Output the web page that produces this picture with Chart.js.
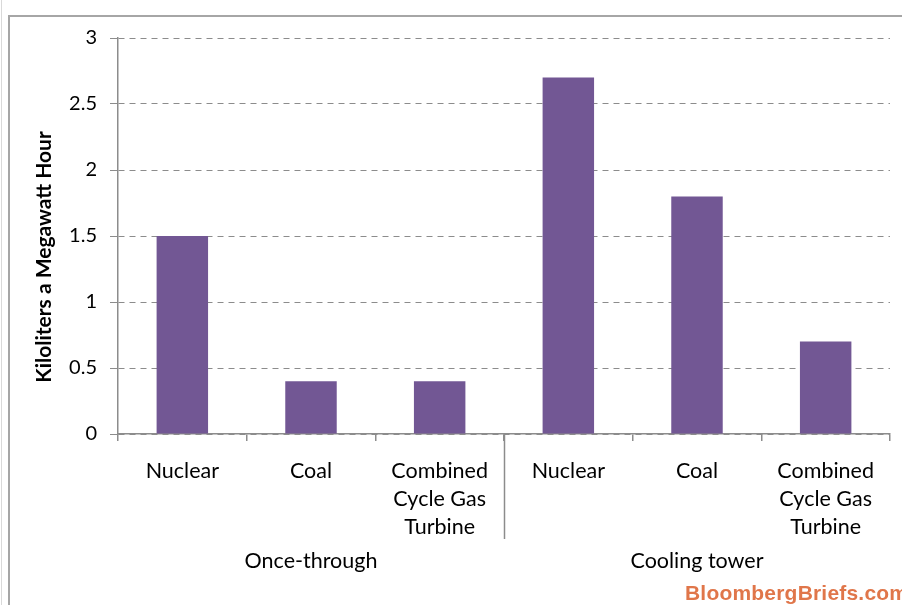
<!DOCTYPE html>
<html>
<head>
<meta charset="utf-8">
<script src="https://cdn.jsdelivr.net/npm/chart.js@4"></script>
<style>
  html, body { margin: 0; padding: 0; background: #fff; }
  #wrap { position: relative; width: 902px; height: 605px; overflow: hidden; }
  #frame { position: absolute; left: 8px; top: 15px; width: 1000px; height: 1000px; border-left: 2px solid #a6a6a6; border-top: 2px solid #a6a6a6; }
  #frame2 { position: absolute; left: 1px; top: 0px; width: 1px; height: 605px; background: #d9d9d9; }
  #c { position: absolute; left: 0; top: 0; }
  #wm { position: absolute; left: 685px; top: 581px; font-family: "Liberation Sans", Arial, sans-serif; font-weight: bold; font-size: 21px; color: #E0764A; white-space: nowrap; letter-spacing: 0.2px; }
</style>
</head>
<body>
<div id="wrap">
  <div id="frame2"></div>
  <div id="frame"></div>
  <canvas id="c" width="902" height="605"></canvas>
  <div id="wm">BloombergBriefs.com</div>
</div>
<script>
const categories = [
  ["Nuclear"], ["Coal"], ["Combined", "Cycle Gas", "Turbine"],
  ["Nuclear"], ["Coal"], ["Combined", "Cycle Gas", "Turbine"]
];
const groups = ["Once-through", "Cooling tower"];
const values = [1.5, 0.4, 0.4, 2.7, 1.8, 0.7];
const yTicks = [0, 0.5, 1, 1.5, 2, 2.5, 3];
const yTitle = "Kiloliters a Megawatt Hour";

const FONT = "Lato, 'Open Sans', sans-serif";
const GRID = "#8c8c8c";

const extras = {
  id: "extras",
  afterDraw(chart) {
    const ctx = chart.ctx;
    const x = chart.scales.x;
    const sep = (x.getPixelForValue(2) + x.getPixelForValue(3)) / 2;
    ctx.save();
    ctx.strokeStyle = GRID;
    ctx.lineWidth = 1.5;
    ctx.beginPath();
    ctx.moveTo(Math.round(sep) + 0.5, chart.chartArea.bottom);
    ctx.lineTo(Math.round(sep) + 0.5, 539);
    ctx.stroke();
    // y-axis title
    ctx.translate(44, 257);
    ctx.rotate(-Math.PI / 2);
    ctx.fillStyle = "#000";
    ctx.font = "bold 21px " + FONT;
    ctx.textAlign = "center";
    ctx.textBaseline = "middle";
    ctx.fillText(yTitle, 0, 0);
    ctx.restore();
  }
};

new Chart(document.getElementById("c"), {
  type: "bar",
  data: {
    labels: categories,
    datasets: [{
      data: values,
      backgroundColor: "#725794",
      borderWidth: 0,
      barPercentage: 0.4,
      categoryPercentage: 1.0
    }]
  },
  options: {
    responsive: false,
    animation: false,
    events: [],
    layout: { padding: { left: 0, top: 38, right: 12, bottom: 0 } },
    plugins: { legend: { display: false }, tooltip: { enabled: false } },
    scales: {
      y: {
        min: 0, max: 3,
        afterBuildTicks(s) { s.ticks = yTicks.map(v => ({ value: v })); },
        afterFit(s) { s.width = 118; },
        ticks: {
          font: { family: FONT, size: 20 },
          color: "#000",
          padding: 13,
          callback: v => String(v)
        },
        grid: {
          color: GRID,
          lineWidth: 1,
          tickLength: 8,
          tickBorderDash: [],
          drawTicks: true
        },
        border: { display: true, color: GRID, width: 1.5, dash: [6, 5] }
      },
      x: {
        afterFit(s) { s.height = 110; },
        ticks: {
          font: { family: FONT, size: 21.5, lineHeight: 1.3 },
          color: "#000",
          padding: 16,
          maxRotation: 0,
          autoSkip: false
        },
        grid: {
          offset: true,
          drawOnChartArea: false,
          drawTicks: true,
          tickLength: 7,
          color: GRID,
          lineWidth: 1.5
        },
        border: { display: true, color: GRID, width: 1.5 }
      },
      x2: {
        type: "category",
        labels: groups,
        position: "bottom",
        offset: true,
        afterFit(s) { s.height = 61; },
        ticks: {
          font: { family: FONT, size: 21.5 },
          color: "#000",
          padding: 4
        },
        grid: { display: false, drawTicks: false },
        border: { display: false }
      }
    }
  },
  plugins: [extras]
});
</script>
</body>
</html>
